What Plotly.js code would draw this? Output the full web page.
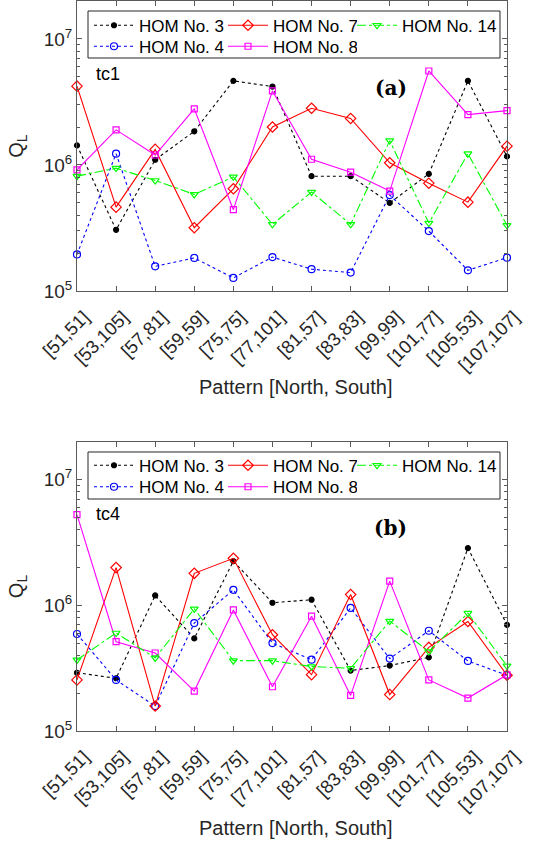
<!DOCTYPE html>
<html>
<head>
<meta charset="utf-8">
<script src="https://cdn.plot.ly/plotly-3.0.1.min.js"></script>
<style>html,body{margin:0;padding:0;background:#fff;}#chart{width:542px;height:846px;}</style>
</head>
<body>
<div id="chart"></div>
<script>
const categories = ['[51,51]','[53,105]','[57,81]','[59,59]','[75,75]','[77,101]','[81,57]','[83,83]','[99,99]','[101,77]','[105,53]','[107,107]'];
const seriesNames = ['HOM No. 3','HOM No. 4','HOM No. 7','HOM No. 8','HOM No. 14'];

// panel (a) tc1
const hom3_tc1  = [1.43e6, 3.06e5, 1.10e6, 1.85e6, 4.65e6, 4.19e6, 8.15e5, 8.15e5, 5.0e5, 8.5e5, 4.65e6, 1.17e6];
const hom4_tc1  = [1.95e5, 1.23e6, 1.57e5, 1.83e5, 1.27e5, 1.86e5, 1.49e5, 1.40e5, 5.77e5, 2.99e5, 1.46e5, 1.84e5];
const hom7_tc1  = [4.22e6, 4.63e5, 1.33e6, 3.18e5, 6.47e5, 2.0e6, 2.82e6, 2.34e6, 1.04e6, 7.17e5, 5.07e5, 1.41e6];
const hom8_tc1  = [9.16e5, 1.90e6, 1.20e6, 2.79e6, 4.42e5, 3.87e6, 1.11e6, 8.77e5, 6.21e5, 5.57e6, 2.51e6, 2.70e6];
const hom14_tc1 = [8.15e5, 9.44e5, 7.53e5, 5.84e5, 8.05e5, 3.38e5, 6.10e5, 3.38e5, 1.56e6, 3.46e5, 1.23e6, 3.32e5];

// panel (b) tc4
const hom3_tc4  = [2.91e5, 2.63e5, 1.20e6, 5.46e5, 2.25e6, 1.05e6, 1.11e6, 3.03e5, 3.32e5, 3.86e5, 2.86e6, 7.0e5];
const hom4_tc4  = [5.92e5, 2.55e5, 1.58e5, 7.23e5, 1.33e6, 5.01e5, 3.70e5, 9.55e5, 3.77e5, 6.28e5, 3.61e5, 2.78e5];
const hom7_tc4  = [2.55e5, 2.0e6, 1.58e5, 1.80e6, 2.37e6, 5.84e5, 2.81e5, 1.22e6, 1.95e5, 4.63e5, 7.45e5, 2.78e5];
const hom8_tc4  = [5.28e6, 5.14e5, 4.18e5, 2.08e5, 9.2e5, 2.25e5, 8.2e5, 1.92e5, 1.56e6, 2.55e5, 1.83e5, 2.80e5];
const hom14_tc4 = [3.68e5, 6.03e5, 3.82e5, 9.38e5, 3.63e5, 3.63e5, 3.26e5, 3.16e5, 7.50e5, 4.29e5, 8.67e5, 3.30e5];

const yTickVals = [1e5, 1e6, 1e7];
const yTickText = ['10<sup>5</sup>', '10<sup>6</sup>', '10<sup>7</sup>'];
const yMinorVals = [2e5,3e5,4e5,5e5,6e5,7e5,8e5,9e5, 2e6,3e6,4e6,5e6,6e6,7e6,8e6,9e6, 2e7];
const xTitle = 'Pattern [North, South]';

// legend slot: MATLAB 3-column legend (col 1-2 rows shared, col 3 separate)
const styles = [
  {color:'#000000', dash:'dot',     symbol:'circle',             size:5, slot:0, rank:1},
  {color:'#0000ff', dash:'dot',     symbol:'circle-open',        size:7, slot:1, rank:1},
  {color:'#ff0000', dash:'solid',   symbol:'diamond-open',       size:8, slot:0, rank:2},
  {color:'#ff00ff', dash:'solid',   symbol:'square-open',        size:6, slot:1, rank:2},
  {color:'#00ff00', dash:'dashdot', symbol:'triangle-down-open', size:7, slot:2, rank:1}
];

function makeTraces(seriesList, xa, ya, legs) {
  return seriesList.map((vals, i) => ({
    type:'scatter', mode:'lines+markers',
    x: categories, y: vals, xaxis: xa, yaxis: ya,
    name: seriesNames[i], legend: legs[styles[i].slot], legendrank: styles[i].rank,
    line:{color:styles[i].color, dash:styles[i].dash, width:1.1},
    marker:{color:styles[i].color, symbol:styles[i].symbol, size:styles[i].size, line:{color:styles[i].color, width:1.2}},
    cliponaxis: false
  }));
}

// invisible helper traces so the minor-tick overlay axes get drawn
function helper(xa, ya) {
  return {type:'scatter', mode:'none', x:[categories[0]], y:[1e6], xaxis:xa, yaxis:ya, showlegend:false, hoverinfo:'skip'};
}

const traces = [
  ...makeTraces([hom3_tc1, hom4_tc1, hom7_tc1, hom8_tc1, hom14_tc1], 'x', 'y', ['legend', 'legend3', 'legend5']),
  ...makeTraces([hom3_tc4, hom4_tc4, hom7_tc4, hom8_tc4, hom14_tc4], 'x2', 'y2', ['legend2', 'legend4', 'legend6']),
  helper('x', 'y3'), helper('x2', 'y4')
];

const axColor = '#5a5a5a';
const txtColor = '#262626';
const FONT = 'Liberation Sans, Arial, sans-serif';
const yRange = [5, Math.log10(2e7)];

function xAxis(anchor) {
  return {
    type:'category', anchor: anchor, range:[0, 11],
    showline:true, linecolor:axColor, linewidth:1, mirror:'ticks',
    ticks:'inside', ticklen:5, tickcolor:axColor, tickangle:-45,
    ticklabelshift:7, ticklabelstandoff:7,
    tickfont:{family:FONT, size:18.5, color:txtColor},
    showgrid:false, zeroline:false, automargin:false
  };
}
function yAxis(anchor, domain) {
  return {
    type:'log', anchor: anchor, domain: domain, range: yRange,
    tickvals: yTickVals, ticktext: yTickText,
    showline:true, linecolor:axColor, linewidth:1, mirror:'ticks',
    ticks:'inside', ticklen:5, tickcolor:axColor,
    tickfont:{family:FONT, size:19, color:txtColor},
    showgrid:false, zeroline:false, automargin:false,
    title:{text:'Q<sub>L</sub>', font:{family:FONT, size:20, color:txtColor}, standoff:14}
  };
}
function yMinor(overlay, anchor) {
  return {
    type:'log', overlaying: overlay, anchor: anchor, range: yRange,
    tickvals: yMinorVals, ticktext: yMinorVals.map(() => ''),
    showline:false, mirror:'ticks', ticks:'inside', ticklen:3, tickcolor:axColor,
    showgrid:false, zeroline:false, automargin:false, showticklabels:false
  };
}

const legendCommon = {
  orientation:'h', xref:'container', yref:'container', xanchor:'left', yanchor:'middle',
  bgcolor:'rgba(0,0,0,0)', borderwidth:0, itemwidth:40,
  font:{family:FONT, size:17, color:'#000'},
  entrywidth:79, entrywidthmode:'pixels', traceorder:'normal', tracegroupgap:0
};
const legX = 89/542;
const legX3 = 352/542;

const annBase = {xref:'paper', yref:'paper', showarrow:false, xanchor:'center', yanchor:'middle'};
const boxBase = {type:'rect', xref:'paper', yref:'paper', layer:'above', fillcolor:'#ffffff', line:{color:'#262626', width:1}};
const layout = {
  width:542, height:846,
  margin:{l:77, r:35, t:1, b:115, autoexpand:false},
  paper_bgcolor:'#ffffff', plot_bgcolor:'#ffffff',
  showlegend:true,
  xaxis: xAxis('y'),
  yaxis: yAxis('x', [0.6027, 1]),
  xaxis2: xAxis('y2'),
  yaxis2: yAxis('x2', [0, 0.3959]),
  yaxis3: yMinor('y', 'x'),
  yaxis4: yMinor('y2', 'x2'),
  legend:  Object.assign({}, legendCommon, {x:legX,  y:1-25.7/846}),
  legend3: Object.assign({}, legendCommon, {x:legX,  y:1-46.7/846}),
  legend5: Object.assign({}, legendCommon, {x:legX3, y:1-25.7/846, entrywidth:100}),
  legend2: Object.assign({}, legendCommon, {x:legX,  y:1-465.7/846}),
  legend4: Object.assign({}, legendCommon, {x:legX,  y:1-487.2/846}),
  legend6: Object.assign({}, legendCommon, {x:legX3, y:1-465.7/846, entrywidth:100}),
  shapes:[
    Object.assign({}, boxBase, {x0:0.0256, x1:0.9837, y0:0.9219, y1:0.9863}),
    Object.assign({}, boxBase, {x0:0.0256, x1:0.9837, y0:0.3178, y1:0.3822})
  ],
  annotations:[
    Object.assign({}, annBase, {text:xTitle, x:0.507, y:0.4712, font:{family:FONT, size:20, color:txtColor}}),
    Object.assign({}, annBase, {text:xTitle, x:0.507, y:-0.1329, font:{family:FONT, size:20, color:txtColor}}),
    Object.assign({}, annBase, {text:'tc1', x:0.072, y:0.9, font:{family:FONT, size:18, color:'#000'}}),
    Object.assign({}, annBase, {text:'<b>(a)</b>', x:0.730, y:0.881, font:{family:'DejaVu Serif, serif', size:20, color:'#000'}}),
    Object.assign({}, annBase, {text:'tc4', x:0.072, y:0.2973, font:{family:FONT, size:18, color:'#000'}}),
    Object.assign({}, annBase, {text:'<b>(b)</b>', x:0.730, y:0.278, font:{family:'DejaVu Serif, serif', size:20, color:'#000'}})
  ]
};

Plotly.newPlot('chart', traces, layout, {staticPlot:true, displayModeBar:false});
</script>
</body>
</html>
